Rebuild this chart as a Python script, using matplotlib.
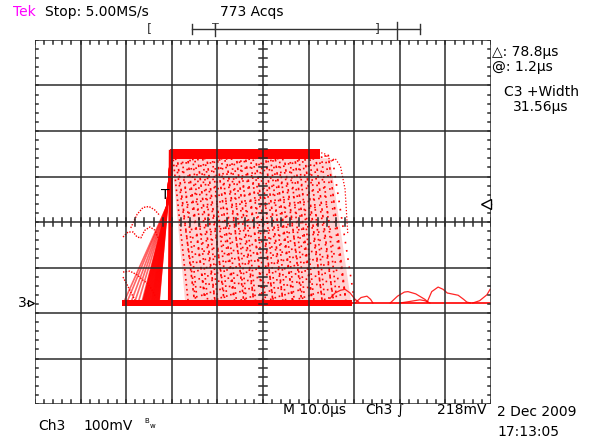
import matplotlib
matplotlib.use("Agg")
import matplotlib.pyplot as plt
import numpy as np

# ---------------- data (time in µs from screen centre, voltage in mV above ground) ----------------
time_per_div_us = 10
mv_per_div = 100
ground_div = -1.78          # ground marker position (divisions from centre)
trigger_level_mV = 218

top_level_mV = 332
top_band_mV = [316, 338]
base_band_mV = [-7, 6]
pulse_begin_us = -30.9
main_rise_us = -20.4
top_band_end_us = 12.4
base_band_end_us = 19.5
record_end_us = 49.8

rise_start_us = [-30.6, -29.9, -29.0, -28.2, -27.4, -26.6, -26.2, -25.8, -25.4, -25.0,
                 -24.6, -24.3, -24.0, -23.7, -23.4, -23.1, -22.8]
rise_knee_us, rise_knee_mV = -21.0, 215
rise_top_us = -20.2
rise_wedge_t = [-26.6, -22.7, -20.5, -21.5]
rise_wedge_mV = [0, 0, 240, 200]

fall_start_us = [-19.8, -19.3, -18.9, -18.2, -17.8, -17.1, -16.6, -16.2, -15.5, -15.1,
                 -14.4, -14.0, -13.3, -12.9, -12.4, -11.8, -11.2, -10.9, -10.1, -9.7,
                 -9.2, -8.5, -8.1, -7.6, -7.0, -6.6, -5.9, -5.4, -5.0, -4.3,
                 -3.9, -3.2, -2.8, -2.3, -1.7, -1.2, -0.6, -0.2, 0.5, 0.9,
                 1.6, 2.0, 2.6, 3.1, 3.5, 4.2, 4.6, 5.3, 5.8, 6.2,
                 6.9, 7.4, 7.8, 8.5, 9.1, 9.6, 10.2, 10.9, 11.5, 12.2,
                 12.8, 13.6, 14.3, 15.1]
fall_duration_us = [3.4, 4.6, 3.9, 5.0]
envelope_t = [-20.0, 14.7, 19.3, -17.1]
envelope_mV = [318, 318, 5, 5]

# ringing traces read from the persistence display
ring_left = [
    ([-29.0, -27.6, -26.3, -25.0, -23.8, -22.6], [165, 195, 210, 212, 205, 192]),
    ([-30.7, -29.6, -28.5, -27.6, -26.8, -25.9, -24.8, -23.7, -23.0, -22.6],
     [145, 156, 156, 145, 143, 160, 167, 160, 143, 127]),
    ([-30.7, -29.2, -27.6, -26.3, -25.2, -24.3, -23.5], [68, 70, 62, 50, 42, 28, 13]),
    ([-30.7, -29.8, -28.9, -28.1], [57, 40, 22, 7]),
]
ring_right = [
    ([14.7, 15.8, 17.0, 18.0, 19.1, 20.2, 21.0], [10, 22, 28, 30, 22, 8, 2]),
    ([20.2, 21.5, 22.8, 23.6, 24.1], [0, 12, 15, 8, 0]),
    ([27.9, 29.5, 31.0, 31.8, 33.5, 35.5, 36.2], [0, 15, 24, 25, 20, 8, 2]),
    ([30.0, 32.0, 34.4, 35.5, 36.6], [0, 3, 7, 5, 0]),
    ([36.0, 37.0, 38.4, 39.5, 40.4, 42.8, 44.0, 44.7, 45.5], [2, 25, 35, 30, 22, 17, 8, 2, 0]),
    ([46.0, 47.5, 49.1, 49.8], [0, 5, 18, 30]),
]
top_end_t = [12.1, 13.5, 15.0, 15.8, 17.0, 18.0, 18.6]
top_end_mV = [332, 328, 312, 318, 300, 250, 150]

# ---------------- figure ----------------
W, H = 597, 440
fig = plt.figure(figsize=(W / 100, H / 100), dpi=100)
fig.patch.set_facecolor("white")

L, R, T, B = 35, 491, 40, 404
ax = fig.add_axes([L / W, 1 - B / H, (R - L) / W, (B - T) / H])
xlo, xhi = -5 * time_per_div_us, 5 * time_per_div_us
ylo = (-4 - ground_div) * mv_per_div
yhi = (4 - ground_div) * mv_per_div
ax.set_xlim(xlo, xhi)
ax.set_ylim(ylo, yhi)
ax.axis("off")

red = "#ff0000"

# envelope of the many falling edges (persistence speckle)
ax.fill(envelope_t, envelope_mV, color="#ffd2d2", lw=0, zorder=1)
dash_sets = [(1.0, 2.0), (1.0, 3.0), (1.5, 2.5), (1.0, 4.0)]
for k, t0 in enumerate(fall_start_us):
    dur = fall_duration_us[k % len(fall_duration_us)]
    ax.plot([t0, t0 + dur], [top_level_mV - 6, 2], color=red, lw=1.2,
            linestyle=((k * 1.7) % 5, dash_sets[k % 4]), zorder=2)

# top band and baseline band
ax.fill_between([main_rise_us, top_band_end_us], top_band_mV[0], top_band_mV[1],
                color=red, lw=0, zorder=3)
ax.fill_between([pulse_begin_us, base_band_end_us], base_band_mV[0], base_band_mV[1],
                color=red, lw=0, zorder=3)
ax.plot([base_band_end_us, record_end_us], [0, 0], color=red, lw=1.2, zorder=3)

# rising edges
ax.fill(rise_wedge_t, rise_wedge_mV, color=red, alpha=0.9, lw=0, zorder=3)
for ts in rise_start_us:
    ax.plot([ts, rise_knee_us, rise_top_us], [0, rise_knee_mV, top_level_mV],
            color=red, lw=1.2, alpha=0.6, zorder=3)
ax.plot([main_rise_us, rise_top_us], [0, top_level_mV], color=red, lw=3, zorder=3)

# rounded top end
ax.plot(top_end_t, top_end_mV, color=red, lw=0.9, linestyle=(0, (1, 1.5)), zorder=3)

for tt, vv in ring_left:
    ax.plot(tt, vv, color=red, lw=1.0, linestyle=(0, (1, 1)), zorder=3)
for tt, vv in ring_right:
    ax.plot(tt, vv, color=red, lw=0.9, alpha=0.85, zorder=3)

# graticule
gcol = "#2b2b2b"
for i in range(11):
    ax.plot([xlo + i * time_per_div_us] * 2, [ylo, yhi], color=gcol, lw=1.1, zorder=5)
for j in range(9):
    ax.plot([xlo, xhi], [ylo + j * mv_per_div] * 2, color=gcol, lw=1.1, zorder=5)
ycen = ylo + 4 * mv_per_div
dxp = (xhi - xlo) / (R - L)   # data per pixel
dyp = (yhi - ylo) / (B - T)
for t in np.arange(xlo, xhi + 0.01, time_per_div_us / 5):
    ax.plot([t, t], [ycen - 4 * dyp, ycen + 4 * dyp], color=gcol, lw=1.1, zorder=5)
    ax.plot([t, t], [yhi, yhi - 4 * dyp], color=gcol, lw=1.1, zorder=5)
    ax.plot([t, t], [ylo, ylo + 4 * dyp], color=gcol, lw=1.1, zorder=5)
for v in np.arange(ylo, yhi + 0.01, mv_per_div / 5):
    ax.plot([-4 * dxp, 4 * dxp], [v, v], color=gcol, lw=1.1, zorder=5)
    ax.plot([xlo, xlo + 3 * dxp], [v, v], color=gcol, lw=1.1, zorder=5)
    ax.plot([xhi, xhi - 3 * dxp], [v, v], color=gcol, lw=1.1, zorder=5)

# trigger marker T and trigger-level arrow
ax.text(-21.4, 237, "T", fontsize=10, ha="center", va="center", color="black", zorder=6)
ax.plot([xhi - 5 * dxp, xhi], [trigger_level_mV] * 2, color="black", lw=1.0, zorder=6,
        clip_on=False)
ax.plot([xhi - 5 * dxp], [trigger_level_mV], marker="<", ms=7, mfc="white", mec="black",
        mew=1.0, zorder=7, clip_on=False)

# ---------------- overlay (pixel coordinates) ----------------
ov = fig.add_axes([0, 0, 1, 1], zorder=10)
ov.set_xlim(0, W)
ov.set_ylim(H, 0)
ov.axis("off")
ov.patch.set_alpha(0)

fs = 10
ov.text(13, 12, "Tek", color="#ff00ff", fontsize=fs, va="center")
ov.text(45, 12, "Stop: 5.00MS/s", color="black", fontsize=fs, va="center")
ov.text(220, 12, "773 Acqs", color="black", fontsize=fs, va="center")

# record-view bar
bc = "#333333"
ov.text(149, 29, "[", fontsize=9, color=bc, ha="center", va="center")
ov.plot([192, 420], [29, 29], color=bc, lw=1)
ov.plot([192, 192], [24, 34], color=bc, lw=1)
ov.text(215, 28, "T", fontsize=8, color=bc, ha="center", va="center")
ov.plot([215, 215], [24, 36], color=bc, lw=1)
ov.text(377, 29, "]", fontsize=9, color=bc, ha="center", va="center")
ov.plot([397, 397], [22, 39], color=bc, lw=1)
ov.plot([420, 420], [24, 34], color=bc, lw=1)

# right-hand readouts
ov.text(492, 52, "△: 78.8µs", fontsize=fs, va="center")
ov.text(492, 67, "@: 1.2µs", fontsize=fs, va="center")
ov.text(541, 92, "C3 +Width", fontsize=fs, va="center", ha="center")
ov.text(541, 107, "31.56µs", fontsize=fs, va="center", ha="center")

# ground marker
gy = T + (4 - ground_div) * (B - T) / 8
ov.text(22, gy, "3", fontsize=fs, va="center", ha="center")
ov.plot([27, 32], [gy, gy], color="black", lw=1)
ov.plot([31], [gy], marker=">", ms=5, mfc="white", mec="black", mew=0.9)

# bottom readouts
ov.text(38, 426, "Ch3", fontsize=fs, va="center")
ov.text(83, 426, "100mV", fontsize=fs, va="center")
ov.text(144, 421, "B", fontsize=5, va="center")
ov.text(150, 426, "w", fontsize=5, va="center")
ov.text(283, 410, "M 10.0µs", fontsize=fs, va="center")
ov.text(365, 410, "Ch3", fontsize=fs, va="center")
ov.text(396, 410, "∫", fontsize=fs, va="center")
ov.text(487, 410, "218mV", fontsize=fs, va="center", ha="right")
ov.text(497, 412, "2 Dec 2009", fontsize=fs, va="center")
ov.text(497, 432, "17:13:05", fontsize=fs, va="center")

fig.savefig("out.png", dpi=100)
